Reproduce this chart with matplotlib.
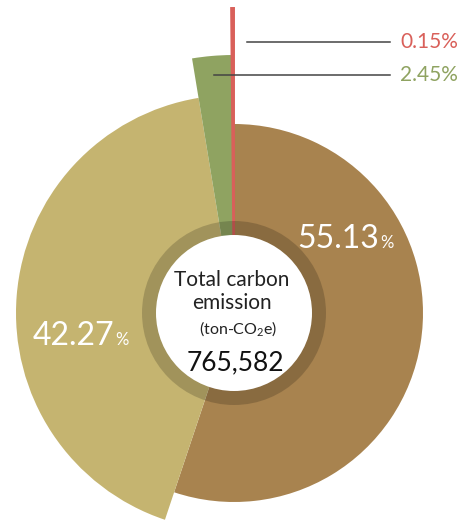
import matplotlib.pyplot as plt
from matplotlib.patches import Circle

plt.rcParams['font.family'] = ['Lato', 'DejaVu Sans']

# emission shares (%), clockwise from 12 o'clock
labels = ['A', 'B', 'C', 'D']
shares = [55.13, 42.27, 2.45, 0.15]
radii = [189, 218, 258, 305]
colors = ['#A8834F', '#C5B470', '#8FA361', '#D9605A']
total = 765582

W, H = 465, 522
fig = plt.figure(figsize=(W / 100, H / 100), dpi=100)
ax = fig.add_axes([0, 0, 1, 1])

cx, cy = 234, H - 313
wedges, _ = ax.pie(shares, colors=colors, startangle=90, counterclock=False,
                   center=(cx, cy), radius=1, frame=True)
for w, r in zip(wedges, radii):
    w.set_radius(r)
# the thin red slice needs a bit of edge to show up
wedges[3].set_edgecolor(colors[3])
wedges[3].set_linewidth(1.4)
wedges[3].set_zorder(2)
ax.set_xlim(0, W)
ax.set_ylim(0, H)
ax.set_aspect('equal')
ax.axis('off')

# center ring + hole
ax.add_patch(Circle((cx, cy), 92, color='black', alpha=0.18, lw=0, zorder=3))
ax.add_patch(Circle((cx, cy), 78, color='white', lw=0, zorder=4))

ax.text(cx - 2, H - 280, 'Total carbon', ha='center', va='center', fontsize=15, color='#222222', zorder=5)
ax.text(cx - 2, H - 303, 'emission', ha='center', va='center', fontsize=15, color='#222222', zorder=5)
ax.text(cx + 4, H - 329, r'(ton-CO$_\mathregular{2}$e)', ha='center', va='center', fontsize=11.5,
        color='#222222', zorder=5)
ax.text(cx + 1, H - 363, f'{total:,}', ha='center', va='center', fontsize=19, color='#111111', zorder=5)

# big inside labels
def big_label(x, y, val):
    ax.text(x, y, f'{val:.2f}', ha='right', va='baseline', fontsize=23, color='white', zorder=5)
    ax.text(x + 1, y, '%', ha='left', va='baseline', fontsize=12, color='white', zorder=5)

big_label(379, H - 248, shares[0])
big_label(114, H - 345, shares[1])

# small outer labels with leader lines
for val, col, y, x0 in [(shares[3], colors[3], 42, 247), (shares[2], colors[2], 75, 214)]:
    ax.plot([x0, 390], [H - y, H - y], color='#444444', lw=1.1, zorder=6)
    ax.text(400, H - y, f'{val:.2f}%', ha='left', va='center', fontsize=15, color=col, zorder=6)

fig.savefig('out.png', dpi=100)
